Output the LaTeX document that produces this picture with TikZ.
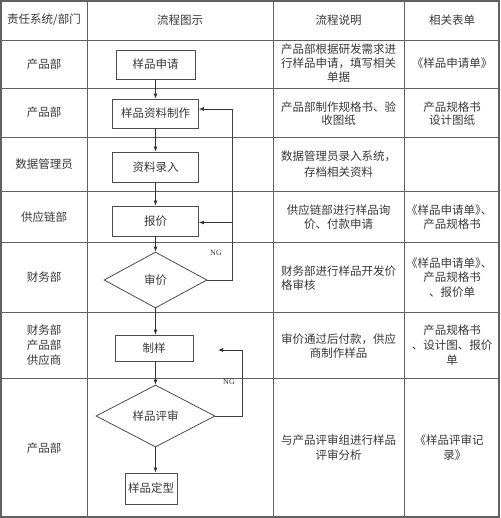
\documentclass[tikz,border=0pt]{standalone}
\usepackage{fontspec}
\setmainfont{Noto Sans CJK SC}
\newfontfamily\halffont[RawFeature=+halt]{Noto Sans CJK SC}
\newfontfamily\latinserif{Liberation Serif}
\newcommand{\bkl}{{\halffont 《}}
\newcommand{\bkr}{{\halffont 》}}
\usetikzlibrary{shapes.geometric,arrows.meta}
\begin{document}
\begin{tikzpicture}[x=1pt,y=-1pt,
  gridline/.style={draw=black!62, line width=0.8pt},
  cell/.style={font=\fontsize{11.5}{14.5}\selectfont, text=black!78, align=center, inner sep=0pt},
  flowbox/.style={draw=black!70, line width=0.8pt, font=\fontsize{11.5}{13}\selectfont, text=black!78, inner sep=0pt},
  decide/.style={diamond, draw=black!70, line width=0.8pt, font=\fontsize{11.5}{13}\selectfont, text=black!78, inner sep=0pt},
  plain/.style={draw=black!75, line width=0.8pt},
  arr/.style={draw=black!80, line width=0.8pt, -{Latex[length=5pt,width=4pt]}},
  nglabel/.style={font=\latinserif\fontsize{8}{9}\selectfont, text=black!80, inner sep=0pt}
]
\useasboundingbox (0,0) rectangle (500,518);
% table grid
\draw[gridline, line width=1.3pt] (1,1) rectangle (499,517);
\foreach \yy in {40,88,137,191,242,312,378}
  \draw[gridline] (1,\yy) -- (499,\yy);
\foreach \xx in {87,273,404}
  \draw[gridline] (\xx,1) -- (\xx,517);
% header
\node[cell] (h1) at (44,20) {责任系统/部门};
\node[cell] (h2) at (180,20) {流程图示};
\node[cell] (h3) at (338.5,20) {流程说明};
\node[cell] (h4) at (452,20) {相关表单};
% column 1
\node[cell] (a1) at (44,64) {产品部};
\node[cell] (a2) at (44,112) {产品部};
\node[cell] (a3) at (44,164) {数据管理员};
\node[cell] (a4) at (44,217) {供应链部};
\node[cell] (a5) at (44,277) {财务部};
\node[cell, font=\fontsize{11.5}{15}\selectfont] (a6) at (44,345) {财务部\\产品部\\供应商};
\node[cell] (a7) at (44,448) {产品部};
% column 3
\node[cell, font=\fontsize{11.5}{14}\selectfont] (b1) at (338.5,63) {产品部根据研发需求进\\行样品申请，填写相关\\单据};
\node[cell, font=\fontsize{11.5}{13.5}\selectfont] (b2) at (338.5,113.5) {产品部制作规格书、验\\收图纸};
\node[cell, font=\fontsize{11.5}{15.5}\selectfont] (b3) at (338.5,164) {数据管理员录入系统，\\存档相关资料};
\node[cell, font=\fontsize{11.5}{14}\selectfont] (b4) at (338.5,217) {供应链部进行样品询\\价、付款申请};
\node[cell, align=left, font=\fontsize{11.5}{14}\selectfont] (b5) at (338.5,278) {财务部进行样品开发价\\格审核};
\node[cell, font=\fontsize{11.5}{14}\selectfont] (b6) at (338.5,346) {审价通过后付款，供应\\商制作样品};
\node[cell, font=\fontsize{11.5}{15}\selectfont] (b7) at (338.5,447.5) {与产品评审组进行样品\\评审分析};
% column 4
\node[cell] (c1) at (452,63) {\bkl 样品申请单\bkr};
\node[cell, font=\fontsize{11.5}{13.5}\selectfont] (c2) at (452,113.5) {产品规格书\\设计图纸};
\node[cell, font=\fontsize{11.5}{14}\selectfont] (c4) at (452,217) {\bkl 样品申请单\bkr 、\\产品规格书};
\node[cell, font=\fontsize{11.5}{14.5}\selectfont] (c5) at (452,277.5) {\bkl 样品申请单\bkr 、\\产品规格书\\、报价单};
\node[cell, font=\fontsize{11.5}{15}\selectfont] (c6) at (452,345) {产品规格书\\、设计图、报价\\单};
\node[cell, font=\fontsize{11.5}{15}\selectfont] (c7) at (452,447.5) {\bkl 样品评审记\\录\bkr};
% flow chart
\node[flowbox, minimum width=79pt, minimum height=29pt] (n1) at (155.5,64.5) {样品申请};
\node[flowbox, minimum width=86pt, minimum height=29pt] (n2) at (155.5,113.5) {样品资料制作};
\node[flowbox, minimum width=86pt, minimum height=30pt] (n3) at (155.5,167) {资料录入};
\node[flowbox, minimum width=86pt, minimum height=30pt] (n4) at (155.5,221) {报价};
\node[decide, minimum width=103pt, minimum height=56pt] (d1) at (155.5,280) {审价};
\node[flowbox, minimum width=78pt, minimum height=26pt] (n5) at (154,348) {制样};
\node[decide, minimum width=119pt, minimum height=62pt] (d2) at (155.5,416) {样品评审};
\node[flowbox, minimum width=52pt, minimum height=31pt] (n6) at (151,488.5) {样品定型};
% main arrows
\draw[arr] (n1.south) -- (n2.north);
\draw[arr] (n2.south) -- (n3.north);
\draw[arr] (n3.south) -- (n4.north);
\draw[arr] (n4.south) -- (d1.north);
\draw[arr] (d1.south) -- (d1.south |- n5.north);
\draw[arr] (d2.north |- n5.south) -- (d2.north);
\draw[arr] (d2.south) -- (d2.south |- n6.north);
% NG loop 1
\coordinate (lp1) at (232,280);
\coordinate (lp1top) at (232,109);
\coordinate (lp1mid) at (232,222.5);
\draw[plain] (d1.east) -- (lp1) -- (lp1top);
\draw[arr] (lp1top) -- (n2.east |- lp1top);
\draw[arr] (lp1mid) -- (n4.east |- lp1mid);
\node[nglabel] (ng1) at (216,253) {NG};
% NG loop 2
\coordinate (lp2) at (242,416);
\coordinate (lp2top) at (242,350);
\coordinate (lp2end) at (218,350);
\draw[plain] (d2.east) -- (lp2) -- (lp2top);
\draw[arr] (lp2top) -- (lp2end);
\node[nglabel] (ng2) at (229,382) {NG};
\end{tikzpicture}
\end{document}
